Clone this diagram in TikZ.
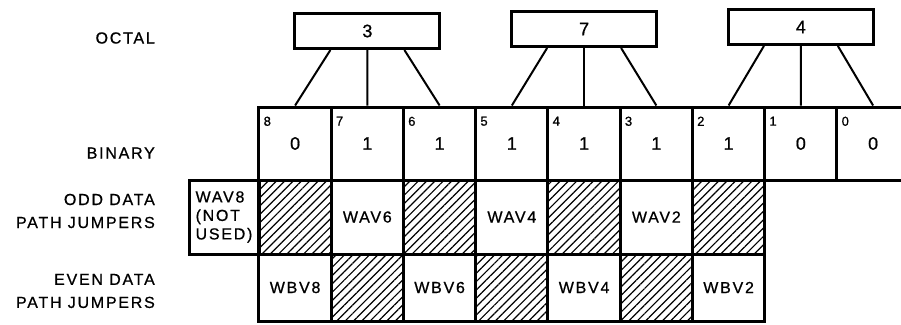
\documentclass[tikz,border=0pt]{standalone}
\usepackage{fontspec}
\setmainfont{Liberation Sans}[LetterSpace=11,FakeBold=0.8]
\usetikzlibrary{calc,patterns.meta}
\begin{document}
\begin{tikzpicture}[x=1pt,y=-1pt,
  lab/.style={anchor=east, align=right, inner sep=0, font=\fontsize{16}{23}\selectfont},
  octbox/.style={draw, line width=3pt, minimum width=145pt, minimum height=35pt, inner sep=0, font=\fontsize{18}{20}\selectfont},
  bincell/.style={draw, line width=3pt, minimum width=72.25pt, minimum height=73pt, inner sep=0, font=\fontsize{18}{20}\selectfont},
  bitnum/.style={anchor=north west, inner sep=0, font=\fontsize{13}{14}\selectfont},
  oddcell/.style={draw, line width=3pt, minimum width=72.25pt, minimum height=74pt, inner sep=0, font=\fontsize{16}{18.5}\selectfont},
  evencell/.style={draw, line width=3pt, minimum width=72.25pt, minimum height=67pt, inner sep=0, font=\fontsize{16}{18.5}\selectfont},
  hatch/.style={pattern={Lines[angle=45,distance=5.9pt,line width=1.2pt]}},
  conn/.style={line width=2pt}
]
\useasboundingbox (0,0) rectangle (901,324);
\clip (0,0) rectangle (901,324);
% row labels
\node[lab] (lo) at (155,38) {OCTAL};
\node[lab] (lb) at (155,153) {BINARY};
\node[lab] (lodd) at (155,211) {ODD DATA\\PATH JUMPERS};
\node[lab] (leven) at (155,291) {EVEN DATA\\PATH JUMPERS};
% octal boxes
\node[octbox] (o3) at (367.4,31) {3};
\node[octbox] (o7) at (584.1,29) {7};
\node[octbox] (o4) at (800.9,27) {4};
% binary cells
\foreach \k/\v in {8/0,7/1,6/1,5/1,4/1,3/1,2/1,1/0,0/0}{
  \node[bincell] (b\k) at ({295.1+(8-\k)*72.25},143.5) {\v};
  \node[bitnum] (n\k) at ($(b\k.north west)+(6,11)$) {\k};
}
% octal to binary connectors
\draw[conn] ($(o3.south)+(-37,0)$) -- (b8.north);
\draw[conn] (o3.south) -- (b7.north);
\draw[conn] ($(o3.south)+(37,0)$) -- (b6.north);
\draw[conn] ($(o7.south)+(-37,0)$) -- (b5.north);
\draw[conn] (o7.south) -- (b4.north);
\draw[conn] ($(o7.south)+(37,0)$) -- (b3.north);
\draw[conn] ($(o4.south)+(-37,0)$) -- (b2.north);
\draw[conn] (o4.south) -- (b1.north);
\draw[conn] ($(o4.south)+(37,0)$) -- (b0.north);
% odd data path jumpers
\node[oddcell, minimum width=70pt, align=left] (wav8) at (224,217) {WAV8\\(NOT\\USED)};
\node[oddcell, hatch] (h8) at (295.1,217) {};
\node[oddcell] (wav6) at (367.35,217) {WAV6};
\node[oddcell, hatch] (h6) at (439.6,217) {};
\node[oddcell] (wav4) at (511.85,217) {WAV4};
\node[oddcell, hatch] (h4) at (584.1,217) {};
\node[oddcell] (wav2) at (656.35,217) {WAV2};
\node[oddcell, hatch] (h2) at (728.6,217) {};
% even data path jumpers
\node[evencell] (wbv8) at (295.1,287.5) {WBV8};
\node[evencell, hatch] (g7) at (367.35,287.5) {};
\node[evencell] (wbv6) at (439.6,287.5) {WBV6};
\node[evencell, hatch] (g5) at (511.85,287.5) {};
\node[evencell] (wbv4) at (584.1,287.5) {WBV4};
\node[evencell, hatch] (g3) at (656.35,287.5) {};
\node[evencell] (wbv2) at (728.6,287.5) {WBV2};
\end{tikzpicture}
\end{document}
